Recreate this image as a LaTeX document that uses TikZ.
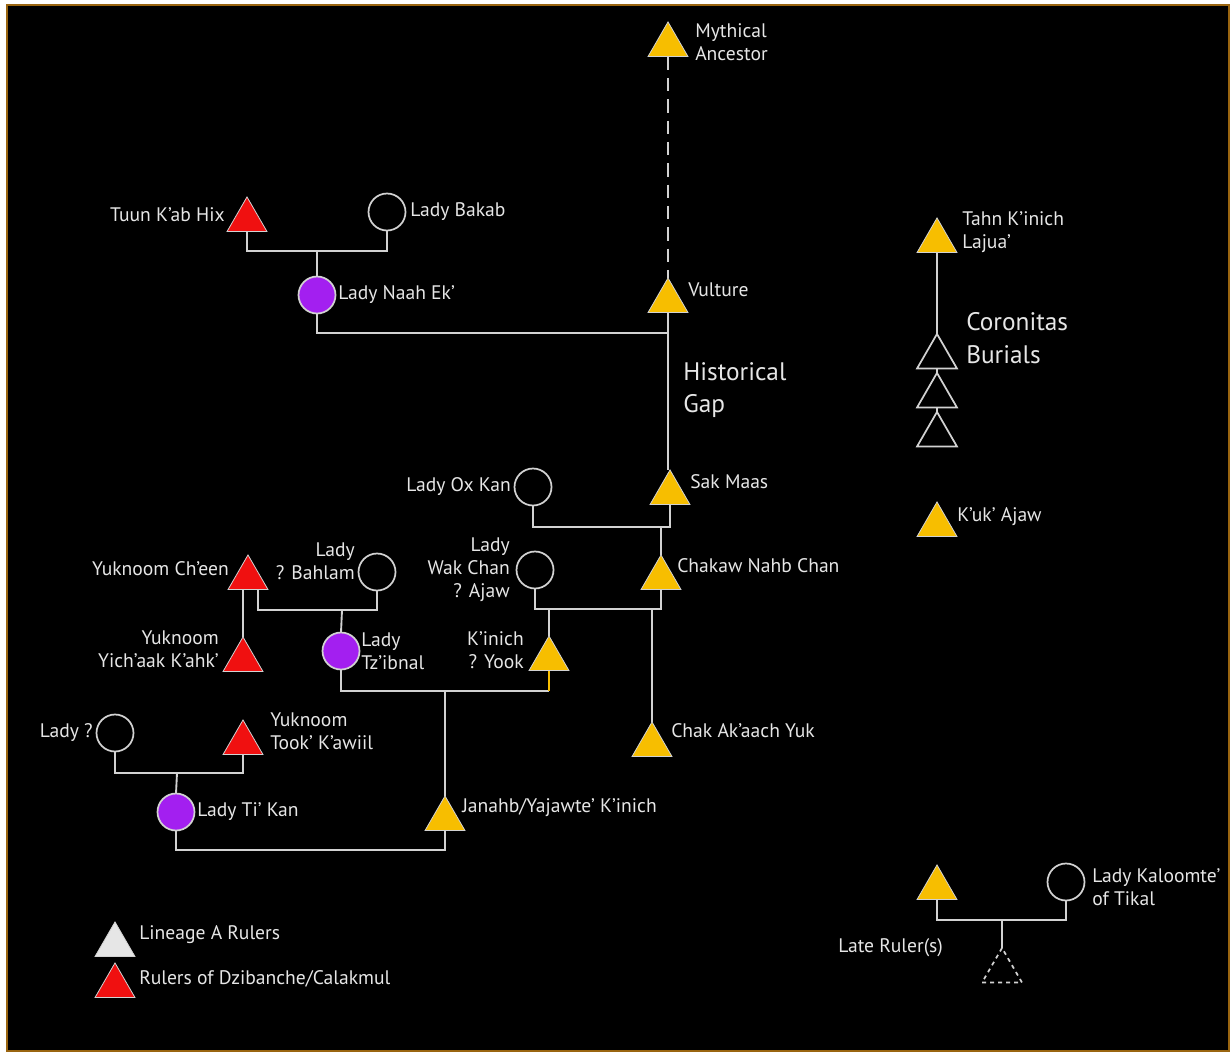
\documentclass[tikz,border=0pt]{standalone}
\usepackage{fontspec}
\setmainfont{PT Sans}
\usetikzlibrary{shapes.geometric,calc}
\definecolor{framec}{HTML}{9A6510}
\definecolor{linec}{HTML}{D2D2D2}
\definecolor{textc}{HTML}{E6E6E6}
\definecolor{goldc}{HTML}{F7BE00}
\definecolor{redc}{HTML}{F01010}
\definecolor{purplec}{HTML}{A31FF0}
\definecolor{legc}{HTML}{E6E6E6}
\tikzset{
  tri/.style={regular polygon, regular polygon sides=3, minimum size=34.6pt, inner sep=0pt, outer sep=0pt, draw=linec, line width=0.6pt},
  gold/.style={tri, fill=goldc},
  redtri/.style={tri, fill=redc},
  opentri/.style={tri, line width=1.3pt},
  circ/.style={circle, minimum size=27.75pt, inner sep=0pt, outer sep=0pt, draw=linec, line width=1.3pt},
  purp/.style={circ, fill=purplec},
  conn/.style={draw=linec, line width=1.4pt},
  lab/.style={text=textc, inner sep=0pt, font=\fontsize{14.7}{17.3}\selectfont},
  biglab/.style={text=textc, inner sep=0pt, font=\fontsize{19}{24.5}\selectfont},
}
\begin{document}
\begin{tikzpicture}[x=0.75pt,y=-0.75pt]
\fill[white] (0,0) rectangle (1231,1054);
\filldraw[fill=black, draw=framec, line width=1.6pt] (7,5) rectangle (1229,1051);
\useasboundingbox (0,0) rectangle (1231,1054);

% triangles
\node[gold] (myth) at (668,45) {};
\node[gold] (vult) at (668,301) {};
\node[redtri] (tuun) at (247,220) {};
\node[gold] (sak) at (670,493) {};
\node[gold] (chak) at (661,578) {};
\node[gold] (kinich) at (549,659) {};
\node[redtri] (ychn) at (248,578) {};
\node[redtri] (yich) at (243,660) {};
\node[redtri] (took) at (243,743) {};
\node[gold] (jan) at (445,819) {};
\node[gold] (akach) at (652,745) {};
\node[gold] (tahn) at (937,241) {};
\node[opentri] (cor1) at (937,357) {};
\node[opentri] (cor2) at (937,396) {};
\node[opentri] (cor3) at (937,435) {};
\node[gold] (kuk) at (937,525) {};
\node[gold] (late) at (937,888) {};
\node[opentri, dashed] (lated) at (1002,971) {};
\node[tri, fill=legc] (legA) at (115,945) {};
\node[redtri] (legR) at (115,986) {};

% circles
\node[circ] (bakab) at (387,212) {};
\node[purp] (naah) at (317,295) {};
\node[circ] (oxkan) at (533,487) {};
\node[circ] (wak) at (535,570) {};
\node[circ] (bahlam) at (377,572) {};
\node[purp] (tzib) at (341,651) {};
\node[circ] (ladyq) at (115,733) {};
\node[purp] (tikan) at (176,812) {};
\node[circ] (kal) at (1066,882) {};

% junction coordinates
\coordinate (m1) at (317,251);
\coordinate (m2) at (668,333);
\coordinate (m3) at (661,527);
\coordinate (m4) at (661,609);
\coordinate (m5) at (342,610);
\coordinate (m6) at (445,691);
\coordinate (m7) at (177,773);
\coordinate (m8) at (445,850);
\coordinate (m9) at (1002,920);

% connectors
\draw[conn, dashed, dash pattern=on 10pt off 6pt] (myth.south) -- (vult.north);
\draw[conn] (tuun.south) |- (m1) -| (bakab.south);
\draw[conn] (m1) -- (naah.north);
\draw[conn] (naah.south) |- (m2);
\draw[conn] (vult.south) -- (vult.south |- sak.north);
\draw[conn] (oxkan.south) |- (m3) -| (sak.south);
\draw[conn] (m3) -- (chak.north);
\draw[conn] (wak.south) |- (m4) -- (chak.south);
\draw[conn] (kinich.north |- m4) -- (kinich.north);
\draw[conn] (akach.north |- m4) -- (akach.north);
\draw[conn] (yich.north |- ychn.south) -- (yich.north);
\draw[conn] ($(ychn.south)+(10,0)$) |- (m5) -| (bahlam.south);
\draw[conn] (m5) -- (tzib.north);
\draw[conn] (tzib.south) |- (m6) -- (m6 -| kinich.south);
\draw[conn, draw=goldc] (m6 -| kinich.south) -- (kinich.south);
\draw[conn] (m6) -- (jan.north);
\draw[conn] (ladyq.south) |- (m7) -| (took.south);
\draw[conn] (m7) -- (tikan.north);
\draw[conn] (tikan.south) |- (m8) -- (jan.south);
\draw[conn] (tahn.south) -- (cor1.north);
\draw[conn] (cor1.south) -- (cor2.north);
\draw[conn] (cor2.south) -- (cor3.north);
\draw[conn] (late.south) |- (m9) -| (kal.south);
\draw[conn] (m9) -- (lated.north);

% labels
\node[lab, anchor=west, align=left] (tmyth) at (695,42) {Mythical\\Ancestor};
\node[lab, anchor=east] (ttuun) at (225,215) {Tuun K’ab Hix};
\node[lab, anchor=west] (tbakab) at (410,212) {Lady Bakab};
\node[lab, anchor=west] (tnaah) at (338,295) {Lady Naah Ek’};
\node[lab, anchor=west] (tvult) at (688,290) {Vulture};
\node[biglab, anchor=west, align=left] (thist) at (683,390) {Historical\\Gap};
\node[lab, anchor=west, align=left] (ttahn) at (962,232) {Tahn K’inich\\Lajua’};
\node[biglab, anchor=west, align=left] (tcor) at (966,338) {Coronitas\\Burials};
\node[lab, anchor=west] (tkuk) at (957,517) {K’uk’ Ajaw};
\node[lab, anchor=east] (toxkan) at (511,487) {Lady Ox Kan};
\node[lab, anchor=west] (tsak) at (690,482) {Sak Maas};
\node[lab, anchor=east, align=right] (twak) at (510,570) {Lady\\Wak Chan\\? Ajaw};
\node[lab, anchor=west] (tchak) at (677,566) {Chakaw Nahb Chan};
\node[lab, anchor=east, align=right] (tbahlam) at (355,561) {Lady\\? Bahlam};
\node[lab, anchor=east] (tychn) at (229,569) {Yuknoom Ch’een};
\node[lab, anchor=east, align=right] (tyich) at (219,649) {Yuknoom\\Yich’aak K’ahk’};
\node[lab, anchor=east, align=right] (tkinich) at (524,650) {K’inich\\? Yook};
\node[lab, anchor=west, align=left] (ttzib) at (361,651) {Lady\\Tz’ibnal};
\node[lab, anchor=east] (tladyq) at (93,733) {Lady ?};
\node[lab, anchor=west, align=left] (ttook) at (270,731) {Yuknoom\\Took’ K’awiil};
\node[lab, anchor=west] (ttikan) at (197,812) {Lady Ti’ Kan};
\node[lab, anchor=west] (takach) at (671,731) {Chak Ak’aach Yuk};
\node[lab, anchor=west] (tjan) at (462,808) {Janahb/Yajawte’ K’inich};
\node[lab, anchor=west, align=left] (tkal) at (1092,887) {Lady Kaloomte’\\of Tikal};
\node[lab, anchor=west] (tlate) at (838,948) {Late Ruler(s)};
\node[lab, anchor=west] (tlegA) at (139,935) {Lineage A Rulers};
\node[lab, anchor=west] (tlegR) at (139,979) {Rulers of Dzibanche/Calakmul};
\end{tikzpicture}
\end{document}
